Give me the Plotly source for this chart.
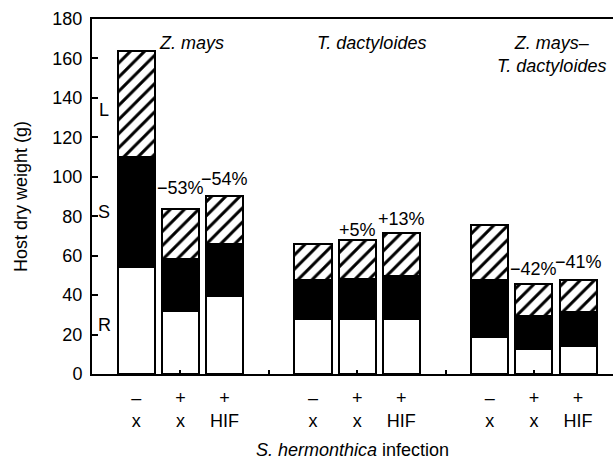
import plotly.graph_objects as go

# Bar positions (x units) and data
positions = [0.5, 1.0, 1.5, 2.5, 3.0, 3.5, 4.5, 5.0, 5.5]
tick_text = ["–<br>x", "+<br>x", "+<br>HIF"] * 3
# cumulative tops
root_top = [54.5, 32.1, 39.7, 27.9, 27.9, 27.9, 18.6, 12.7, 14.4]
stem_top = [110.0, 58.2, 65.8, 47.7, 48.2, 49.9, 47.7, 29.4, 31.6]
leaf_top = [164.0, 83.7, 90.3, 65.9, 67.8, 71.3, 75.5, 45.6, 47.7]
root = root_top
stem = [s - r for s, r in zip(stem_top, root_top)]
leaf = [l - s for l, s in zip(leaf_top, stem_top)]

pct_labels = ["−53%", "−54%", "+5%", "+13%", "−42%", "−41%"]
pct_idx = [1, 2, 4, 5, 7, 8]
pct_y = [94.5, 99.0, 73.0, 78.5, 53.0, 57.0]

groups = ["<i>Z. mays</i>", "<i>T. dactyloides</i>", "<i>Z. mays</i>–<br><i>T. dactyloides</i>"]
group_x = [1.13, 3.16, 5.2]
group_y = [168, 168, 162]

FONT = "Liberation Sans, Arial, sans-serif"
FS = 18
W = 0.42
line = dict(color="black", width=2)

fig = go.Figure()
fig.add_trace(go.Bar(x=positions, y=root, width=W, name="R",
                     marker=dict(color="white", line=line)))
fig.add_trace(go.Bar(x=positions, y=stem, width=W, name="S",
                     marker=dict(color="black", line=line)))
fig.add_trace(go.Bar(x=positions, y=leaf, width=W, name="L",
                     marker=dict(color="white", line=line,
                                 pattern=dict(shape="/", fgcolor="black", bgcolor="white",
                                              fgopacity=1, size=10, solidity=0.3))))

annotations = []
for lbl, i, yv in zip(pct_labels, pct_idx, pct_y):
    annotations.append(dict(x=positions[i], y=yv, text=lbl, showarrow=False,
                            xref="x", yref="y", font=dict(size=FS)))
for g, gx, gy in zip(groups, group_x, group_y):
    annotations.append(dict(x=gx, y=gy, text=g, showarrow=False,
                            xref="x", yref="y", font=dict(size=FS), yanchor="middle"))
# component letters
for letter, yv in [("L", 134), ("S", 82), ("R", 25)]:
    annotations.append(dict(x=0.14, y=yv, text=letter, showarrow=False,
                            xref="x", yref="y", font=dict(size=FS)))

fig.update_layout(
    barmode="stack",
    width=613, height=460,
    margin=dict(l=92, r=0, t=19, b=86),
    paper_bgcolor="white", plot_bgcolor="white",
    showlegend=False,
    font=dict(family=FONT, size=FS, color="black"),
    annotations=annotations,
    xaxis=dict(range=[0, 5.895], showline=True, linecolor="black", linewidth=2,
               mirror=True, tickmode="array", tickvals=positions, ticktext=tick_text,
               ticks="", showgrid=False, zeroline=False, ticklabelstandoff=6,
               minor=dict(tickmode="array", tickvals=[1, 2, 3, 4, 5], ticks="inside",
                          ticklen=4, tickwidth=1.5, tickcolor="black"),
               title=dict(text="<i>S. hermonthica</i> infection", font=dict(size=FS), standoff=14)),
    yaxis=dict(range=[0, 180], showline=True, linecolor="black", linewidth=2,
               tickvals=list(range(0, 181, 20)), ticks="inside", ticklen=6, tickwidth=1.5,
               tickcolor="black", showgrid=False, zeroline=False, ticklabelstandoff=4,
               title=dict(text="Host dry weight (g)", font=dict(size=FS), standoff=20)),
)

fig.write_html("out.html")
